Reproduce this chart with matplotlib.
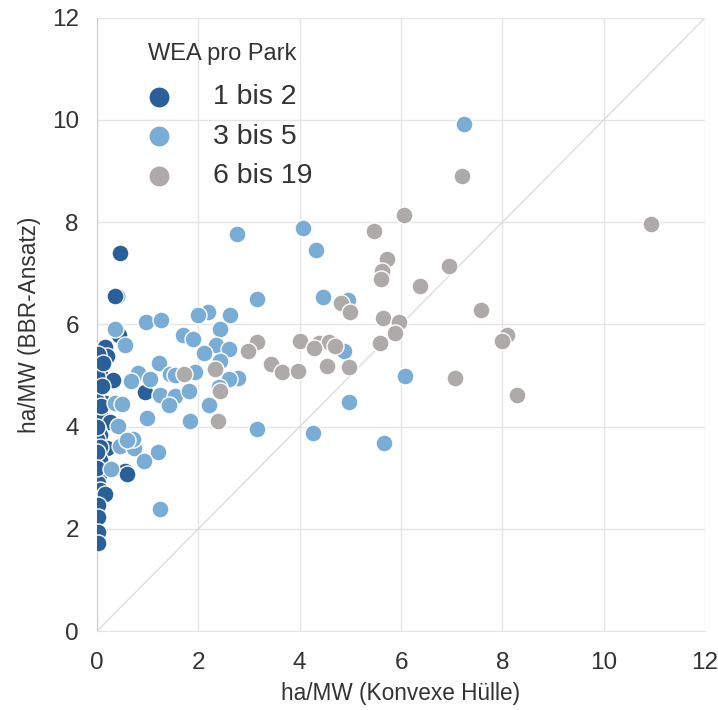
import matplotlib
matplotlib.use("Agg")
import matplotlib.pyplot as plt

plt.rcParams['font.family'] = ['Liberation Sans', 'DejaVu Sans']

# WEA pro Park: 1 bis 2
x_small = [0.45, 0.40, 0.35, 0.44, 0.16, 0.19, 0.03, 0.03, 0.06, 0.32, 0.03, 0.00,
           0.95, 0.16, 0.03, 0.12, 0.26, 0.03, 0.06, 0.00, 0.19, 0.06, 0.06, 0.55,
           0.59, 0.06, 0.03, 0.06, 0.16, 0.03, 0.03, 0.03, 0.03, 0.00, 0.00, 0.10,
           0.00, 0.00, 0.12, 0.00, 0.08]
y_small = [7.40, 6.56, 6.55, 5.79, 5.56, 5.38, 5.43, 5.17, 5.04, 4.92, 4.85, 4.68,
           4.68, 4.47, 4.26, 4.16, 4.10, 3.93, 3.84, 3.75, 3.58, 3.61, 3.35, 3.13,
           3.07, 3.09, 2.89, 2.76, 2.69, 2.47, 2.24, 1.94, 1.72, 5.00, 4.50, 4.80,
           3.50, 3.20, 5.25, 4.00, 4.40]

# WEA pro Park: 3 bis 5
x_mid = [7.24, 4.06, 2.76, 4.33, 3.16, 4.47, 4.95, 2.19, 2.00, 2.63, 0.96, 1.26,
         0.36, 2.42, 1.69, 1.90, 0.55, 2.34, 2.60, 2.12, 4.88, 2.43, 1.22, 0.82,
         1.05, 1.44, 1.54, 1.94, 2.79, 2.60, 0.68, 2.40, 1.25, 1.54, 1.43, 1.82,
         2.21, 0.99, 1.84, 3.16, 0.36, 0.49, 0.42, 0.45, 0.74, 0.72, 0.59, 1.20,
         0.93, 0.27, 1.25, 6.07, 4.97, 4.26, 5.66]
y_mid = [9.92, 7.89, 7.76, 7.46, 6.49, 6.53, 6.48, 6.24, 6.18, 6.18, 6.04, 6.09,
         5.91, 5.92, 5.80, 5.72, 5.59, 5.60, 5.52, 5.45, 5.49, 5.29, 5.25, 5.05,
         4.94, 5.04, 5.01, 5.07, 4.96, 4.93, 4.90, 4.78, 4.63, 4.60, 4.42, 4.69,
         4.42, 4.17, 4.11, 3.95, 4.46, 4.45, 4.01, 3.63, 3.59, 3.75, 3.74, 3.51,
         3.33, 3.18, 2.39, 4.99, 4.48, 3.87, 3.69]

# WEA pro Park: 6 bis 19
x_large = [7.20, 6.05, 10.93, 5.47, 5.73, 6.94, 5.62, 5.60, 6.38, 4.81, 4.99, 7.58,
           5.65, 5.97, 5.88, 8.10, 8.00, 3.16, 4.01, 4.39, 4.57, 4.70, 4.29, 5.58,
           2.99, 3.44, 3.65, 3.97, 4.53, 4.97, 2.33, 1.72, 7.06, 8.28, 2.43, 2.38]
y_large = [8.90, 8.14, 7.96, 7.83, 7.29, 7.15, 7.05, 6.89, 6.76, 6.42, 6.24, 6.28,
           6.13, 6.04, 5.83, 5.79, 5.68, 5.66, 5.68, 5.64, 5.66, 5.58, 5.54, 5.63,
           5.48, 5.22, 5.08, 5.09, 5.19, 5.17, 5.12, 5.04, 4.96, 4.63, 4.70, 4.11]

labels = ["1 bis 2", "3 bis 5", "6 bis 19"]
colors = ["#2A6099", "#7AADD6", "#AEAAAA"]

fig = plt.figure(figsize=(7.18, 7.10), dpi=100)
ax = fig.add_axes([0.135, 0.111, 0.847, 0.864])

# diagonal reference line
ax.plot([0, 12], [0, 12], color="#dddddd", lw=1.0, zorder=1)

for xs, ys, lab, col in zip([x_small, x_mid, x_large], [y_small, y_mid, y_large], labels, colors):
    ax.scatter(xs, ys, s=150, color=col, edgecolor="white", linewidth=1.0, label=lab, zorder=3)

ax.set_xlim(0, 12)
ax.set_ylim(0, 12)
ax.set_xticks(range(0, 13, 2))
ax.set_yticks(range(0, 13, 2))
ax.grid(True, color="#e5e5e5", lw=1.0, zorder=0)
ax.set_axisbelow(True)
ax.tick_params(length=0, labelsize=17.5, colors="#333333")
ax.tick_params(axis="x", pad=15)
ax.tick_params(axis="y", pad=13)
for side in ["top", "right"]:
    ax.spines[side].set_visible(False)
ax.spines["left"].set_color("#cccccc")
ax.spines["bottom"].set_color("#e5e5e5")

ax.set_xlabel("ha/MW (Konvexe Hülle)", fontsize=16.3, color="#333333", labelpad=6)
ax.set_ylabel("ha/MW (BBR-Ansatz)", fontsize=16.3, color="#333333", labelpad=8)

leg = ax.legend(title="WEA pro Park", loc="upper left", bbox_to_anchor=(0.065, 0.978),
                borderaxespad=0, frameon=False, fontsize=20.5, title_fontsize=17,
                handlelength=0.8, handletextpad=1.5, labelspacing=0.48,
                markerscale=1.25)
leg._legend_box.align = "left"
leg._legend_box.sep = 14
for t in leg.get_texts():
    t.set_color("#333333")
leg.get_title().set_color("#333333")

fig.savefig("out.png", dpi=100)
